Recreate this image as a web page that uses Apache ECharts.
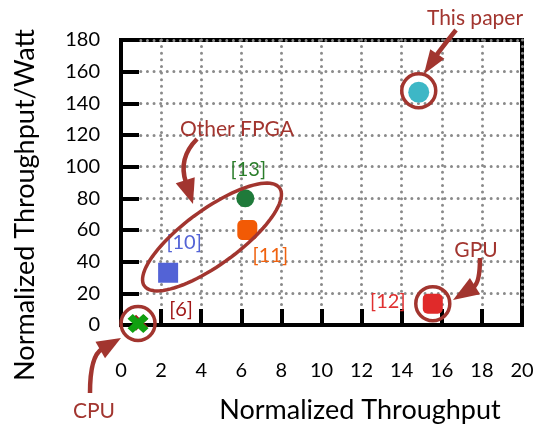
<!DOCTYPE html>
<html><head><meta charset="utf-8">
<script src="https://cdn.jsdelivr.net/npm/echarts@6/dist/echarts.min.js"></script>
<style>html,body{margin:0;padding:0;background:#fff}#c{width:541px;height:431px}</style>
</head><body><div id="c"></div>
<script>
// ---- data ----
const xTickLabels = ['0','2','4','6','8','10','12','14','16','18','20'];
const yTickLabels = ['0','20','40','60','80','100','120','140','160','180'];
const thisPaper = [[14.85, 147]];
const ref13 = [[6.2, 80]];
const ref11 = [[6.3, 60]];
const ref10 = [[2.35, 33]];
const ref12 = [[15.55, 13.5]];
const ref6 = [[0.95, 1.5]];
const cpu = [[0.85, 1]];
const ringed = [[14.85, 148], [15.55, 13.5], [0.85, 1]];

const FONT = 'Lato';
const DR = '#a2352f';
const chart = echarts.init(document.getElementById('c'), null, {renderer: 'canvas'});

const xPath = 'path://M3,0 L6,3 L9,0 L12,3 L9,6 L12,9 L9,12 L6,9 L3,12 L0,9 L3,6 L0,3 Z';

function pt(name, data, symbol, size, color, text, lcolor, offset, z) {
  return {
    type: 'scatter', name, data, symbol, symbolSize: size, z: z || 3,
    itemStyle: {color, opacity: 1},
    label: {show: !!text, formatter: text, position: 'inside', offset: offset || [0,0],
      color: lcolor, fontSize: 20, fontFamily: FONT},
    emphasis: {disabled: true}, silent: true
  };
}

const option = {
  animation: false,
  grid: {left: 121, right: 19, top: 40, bottom: 106, show: true, borderColor: '#000', borderWidth: 4},
  xAxis: [{
    type: 'value', min: 0, max: 20, interval: 2,
    axisLine: {show: true, onZero: false, lineStyle: {color: '#000', width: 4}},
    axisTick: {show: false},
    axisLabel: {margin: 36, fontSize: 20, fontFamily: FONT, color: '#000',
      formatter: (v) => xTickLabels[Math.round(v / 2)]},
    splitLine: {show: true, lineStyle: {color: '#8a8a8a', width: 3, type: [0.01, 6.6], cap: 'round'}}
  }, {
    // second (overlay) x axis used only for the inward tick stubs
    type: 'value', min: 0, max: 20, interval: 2, position: 'bottom',
    axisLine: {show: false}, axisLabel: {show: false}, splitLine: {show: false},
    axisTick: {show: true, inside: true, length: 16, lineStyle: {color: '#000', width: 4}}
  }],
  yAxis: [{
    type: 'value', min: 0, max: 180, interval: 20,
    axisLine: {show: true, onZero: false, lineStyle: {color: '#000', width: 4}},
    axisTick: {show: false},
    axisLabel: {margin: 21, fontSize: 20, fontFamily: FONT, color: '#000',
      formatter: (v) => yTickLabels[Math.round(v / 20)]},
    splitLine: {show: true, lineStyle: {color: '#8a8a8a', width: 3, type: [0.01, 6.6], cap: 'round'}}
  }, {
    type: 'value', min: 0, max: 180, interval: 20, position: 'left',
    axisLine: {show: false}, axisLabel: {show: false}, splitLine: {show: false},
    axisTick: {show: true, inside: true, length: 18, lineStyle: {color: '#000', width: 4}}
  }],
  series: [
    pt('[6]', ref6, xPath, [16, 16], '#a01818', '[6]', '#a01818', [41, -13]),
    pt('CPU', cpu, xPath, [21, 19], '#11a011', '', '', [0,0], 4),
    pt('[10]', ref10, 'rect', 20, '#5363d6', '[10]', '#5363d6', [16, -30]),
    pt('[11]', ref11, 'roundRect', 20, '#f25a05', '[11]', '#f0620f', [23, 26]),
    pt('[13]', ref13, 'circle', 18, '#1f7a3a', '[13]', '#2a7d2a', [3, -29]),
    pt('[12]', ref12, 'roundRect', 20, '#e02a2a', '[12]', '#e03030', [-45, -2]),
    pt('This paper', thisPaper, 'circle', 21, '#3db7c6', '', '', [0,0]),
    {
      type: 'scatter', name: 'rings', data: ringed, symbol: 'circle', symbolSize: 34, z: 5,
      itemStyle: {color: 'rgba(0,0,0,0)', borderColor: DR, borderWidth: 3.5, opacity: 1},
      silent: true, emphasis: {disabled: true}
    }
  ]
};
chart.setOption(option);

// ---- annotations (in pixels) ----
function arrow(p0, c, tip, hl, hw) {
  const dx = tip[0] - c[0], dy = tip[1] - c[1];
  const L = Math.hypot(dx, dy), ux = dx / L, uy = dy / L;
  const base = [tip[0] - ux * hl, tip[1] - uy * hl];
  const nx = -uy, ny = ux;
  return [
    {type: 'bezierCurve', z: 100, silent: true,
      shape: {x1: p0[0], y1: p0[1], x2: base[0] + ux * 2, y2: base[1] + uy * 2, cpx1: c[0], cpy1: c[1]},
      style: {stroke: DR, lineWidth: 4.5, fill: 'none'}},
    {type: 'polygon', z: 100, silent: true,
      shape: {points: [tip, [base[0] + nx * hw / 2, base[1] + ny * hw / 2], [base[0] - nx * hw / 2, base[1] - ny * hw / 2]]},
      style: {fill: DR}}
  ];
}
function ellipse(cx, cy, a, b, deg) {
  const th = deg * Math.PI / 180, pts = [];
  for (let i = 0; i < 90; i++) {
    const t = i / 90 * Math.PI * 2;
    const ex = a * Math.cos(t), ey = b * Math.sin(t);
    pts.push([cx + ex * Math.cos(th) - ey * Math.sin(th), cy - (ex * Math.sin(th) + ey * Math.cos(th))]);
  }
  return {type: 'polygon', z: 100, silent: true, shape: {points: pts},
    style: {fill: 'none', stroke: DR, lineWidth: 3.5}};
}
function txt(x, y, s, size, color, rot) {
  return {type: 'text', x, y, rotation: rot || 0, z: 100, silent: true,
    style: {text: s, fontSize: size, fontFamily: FONT, fill: color, align: 'center', verticalAlign: 'middle'}};
}
const g = [].concat(
  [ellipse(212, 237, 83.5, 27.5, 36)],
  arrow([456, 30], [440, 50], [424, 74], 24, 17),
  arrow([197, 139], [178, 158], [193, 204], 25, 20),
  arrow([480, 258], [480, 283], [453, 300], 26, 19),
  arrow([90, 393], [90, 356], [121, 338], 24, 19),
  [
    txt(475, 18, 'This paper', 21, DR),
    txt(237, 129, 'Other FPGA', 21, DR),
    txt(476, 250, 'GPU', 21, DR),
    txt(94, 411, 'CPU', 21, DR),
    txt(360, 410, 'Normalized Throughput', 27, '#000'),
    txt(25, 205, 'Normalized Throughput/Watt', 27, '#000', Math.PI / 2)
  ]
);
chart.setOption({graphic: {elements: g}});
</script></body></html>
